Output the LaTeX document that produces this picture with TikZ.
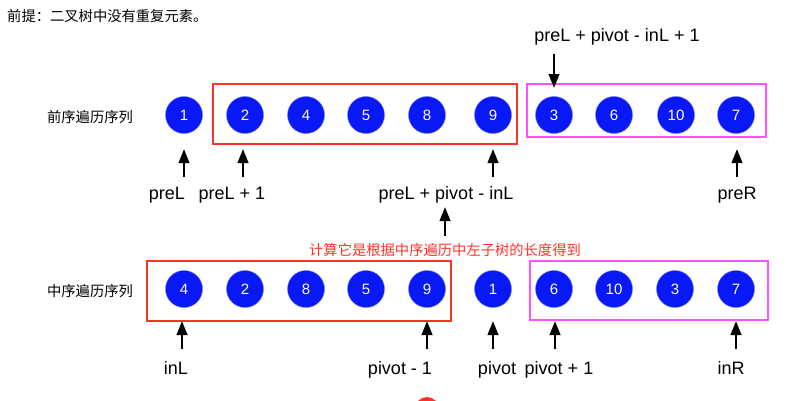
\documentclass[tikz,border=0pt]{standalone}
\usepackage{fontspec}
\setmainfont{Liberation Sans}
\newfontfamily\cjk{Noto Sans CJK SC}
\usetikzlibrary{arrows.meta}
\definecolor{cblue}{RGB}{8,24,246}
\definecolor{bred}{RGB}{255,50,40}
\definecolor{bmag}{RGB}{255,80,255}
\tikzset{
  num/.style={circle,fill=cblue,draw=cblue!60!white,line width=0.4pt,minimum size=37pt,inner sep=0pt,text=white,font=\fontsize{15}{15}\selectfont},
  lab/.style={font=\fontsize{18}{18}\selectfont,inner sep=0pt,anchor=base},
  cn/.style={font=\cjk\fontsize{14.3}{15}\selectfont,inner sep=0pt},
  redbox/.style={draw=bred,line width=2pt,inner sep=0pt},
  magbox/.style={draw=bmag,line width=2pt,inner sep=0pt},
  arr/.style={line width=2.4pt,-{Triangle[length=14pt,width=10.5pt]}},
}
\begin{document}
\begin{tikzpicture}[x=1pt,y=-1pt]
\useasboundingbox (0,0) rectangle (799,400);
\clip (0,0) rectangle (799,400);
% title
\node[cn,anchor=west] (title) at (7,16) {前提：二叉树中没有重复元素。};
% row labels
\node[cn] (prelab) at (90,117) {前序遍历序列};
\node[cn] (inlab) at (90,291) {中序遍历序列};
% boxes
\node[redbox,minimum width=304pt,minimum height=60pt] (tred) at (365,114) {};
\node[magbox,minimum width=239pt,minimum height=53pt] (tmag) at (646.5,110.5) {};
\node[redbox,minimum width=304pt,minimum height=60pt] (bred) at (299,291) {};
\node[magbox,minimum width=238pt,minimum height=59pt] (bmag) at (649,290.5) {};
% top row
\foreach \n/\x [count=\i] in {1/184,2/245,4/306,5/366,8/427,9/493,3/554,6/614,10/676,7/736}
  \node[num] (t\i) at (\x,115) {\n};
% bottom row
\foreach \n/\x [count=\i] in {4/184,2/245,8/306,5/366,9/427,1/493,6/554,10/614,3/675,7/736}
  \node[num] (b\i) at (\x,289) {\n};
% top labels
\node[lab] (lpreL) at (167,199) {preL};
\node[lab] (lpreL1) at (232,199) {preL + 1};
\node[lab] (lpiv) at (446,199) {preL + pivot - inL};
\node[lab] (lpreR) at (737,199) {preR};
\node[lab] (lpiv1) at (617,41) {preL + pivot - inL + 1};
% red note
\node[cn,text=bred] (note) at (445,250) {计算它是根据中序遍历中左子树的长度得到};
% bottom labels
\node[lab] (linL) at (176,374) {inL};
\node[lab] (lpm1) at (400,374) {pivot - 1};
\node[lab] (lpv) at (497,374) {pivot};
\node[lab] (lpp1) at (559,374) {pivot + 1};
\node[lab] (linR) at (731,374) {inR};
% arrows top
\foreach \x/\nm in {184/a,243/b,493/c,737/d}{
  \coordinate (s\nm) at (\x,177);
  \coordinate (e\nm) at (\x,149);
  \draw[arr] (s\nm) -- (e\nm);
}
\coordinate (sdown) at (554,54);
\coordinate (edown) at (554,88);
\draw[arr] (sdown) -- (edown);
\coordinate (smid) at (445,236);
\coordinate (emid) at (445,207);
\draw[arr] (smid) -- (emid);
% arrows bottom
\foreach \x/\nm in {182/f,427/g,493/h,555/i,736/j}{
  \coordinate (s\nm) at (\x,349);
  \coordinate (e\nm) at (\x,321);
  \draw[arr] (s\nm) -- (e\nm);
}
% partial red circle at bottom
\node[circle,fill=bred,minimum size=24pt,inner sep=0pt] (redc) at (427,409) {};
\end{tikzpicture}
\end{document}
